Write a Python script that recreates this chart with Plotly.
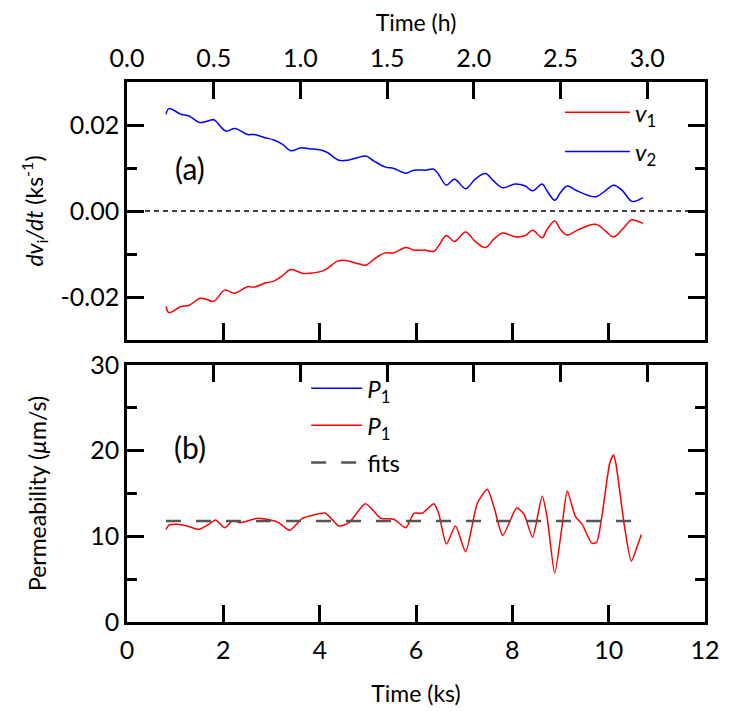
import plotly.graph_objects as go

# panel (a): dv_i/dt in ks^-1
time_v2 = [0.81, 0.87, 1.12, 1.29, 1.50, 1.64, 1.80, 2.05, 2.24, 2.50, 2.64, 2.85, 3.05, 3.23, 3.40,
           3.61, 3.78, 4.02, 4.16, 4.40, 4.58, 4.78, 4.96, 5.13, 5.37, 5.54, 5.79, 5.96, 6.20, 6.37,
           6.47, 6.63, 6.80, 7.03, 7.23, 7.44, 7.61, 7.80, 8.06, 8.27, 8.42, 8.62, 8.72, 8.88, 9.00,
           9.14, 9.34, 9.73, 9.93, 10.10, 10.28, 10.47, 10.56, 10.71]
rate_v2 = [0.0225, 0.0238, 0.0225, 0.0221, 0.0206, 0.0208, 0.0212, 0.0186, 0.0192, 0.0178, 0.0178,
           0.0171, 0.0165, 0.0155, 0.0140, 0.0147, 0.0145, 0.0142, 0.0136, 0.0118, 0.0118, 0.0124,
           0.0128, 0.0116, 0.0102, 0.0099, 0.0088, 0.0095, 0.0095, 0.0097, 0.0085, 0.0060, 0.0074,
           0.0052, 0.0074, 0.0087, 0.0070, 0.0054, 0.0063, 0.0058, 0.0047, 0.0063, 0.0047, 0.0025,
           0.0043, 0.0058, 0.0047, 0.0033, 0.0047, 0.0060, 0.0048, 0.0023, 0.0023, 0.0031]

time_v1 = [0.81, 0.87, 1.12, 1.29, 1.52, 1.64, 1.80, 2.03, 2.24, 2.50, 2.64, 2.88, 3.05, 3.23, 3.40,
           3.64, 3.78, 4.09, 4.38, 4.54, 4.78, 4.96, 5.13, 5.34, 5.54, 5.79, 5.96, 6.20, 6.37, 6.47,
           6.63, 6.80, 7.03, 7.23, 7.44, 7.61, 7.80, 8.06, 8.27, 8.42, 8.62, 8.72, 8.88, 9.00, 9.14,
           9.34, 9.73, 9.93, 10.10, 10.28, 10.47, 10.56, 10.71]
rate_v1 = [-0.0222, -0.0236, -0.0222, -0.0219, -0.0203, -0.0205, -0.0210, -0.0184, -0.0191, -0.0176,
           -0.0177, -0.0167, -0.0163, -0.0150, -0.0136, -0.0145, -0.0145, -0.0138, -0.0116, -0.0115,
           -0.0122, -0.0126, -0.0112, -0.0098, -0.0097, -0.0085, -0.0091, -0.0091, -0.0094, -0.0081,
           -0.0057, -0.0071, -0.0049, -0.0071, -0.0085, -0.0066, -0.0051, -0.0060, -0.0057, -0.0045,
           -0.0062, -0.0043, -0.0023, -0.0043, -0.0056, -0.0045, -0.0031, -0.0046, -0.0060, -0.0043,
           -0.0021, -0.0022, -0.0029]

# panel (b): permeability in um/s
time_p = [0.81, 0.87, 1.04, 1.25, 1.49, 1.67, 1.84, 2.03, 2.19, 2.36, 2.71, 2.98, 3.15, 3.38, 3.64,
          3.88, 4.12, 4.40, 4.61, 4.95, 5.27, 5.54, 5.79, 5.96, 6.13, 6.37, 6.47, 6.63, 6.82, 7.03,
          7.27, 7.48, 7.62, 7.80, 8.09, 8.24, 8.42, 8.62, 8.72, 8.88, 9.03, 9.14, 9.31, 9.45, 9.65,
          9.75, 10.02, 10.10, 10.15, 10.33, 10.47, 10.59, 10.68]
perm_p1 = [10.8, 11.3, 11.4, 11.2, 10.8, 11.3, 11.9, 11.0, 11.8, 11.6, 12.1, 11.9, 11.6, 10.7, 12.1,
           12.5, 12.7, 11.2, 11.6, 13.8, 12.1, 12.0, 11.0, 12.7, 12.7, 13.8, 12.7, 9.1, 11.2, 8.2,
           13.8, 15.5, 13.4, 10.1, 13.3, 12.6, 9.9, 14.7, 12.3, 5.7, 11.1, 15.3, 12.3, 11.4, 9.2,
           9.3, 18.5, 19.5, 18.5, 11.1, 7.1, 8.8, 10.2]
fit_time = [0.81, 10.47]
fit_perm = [11.8, 11.8]

hour_ticks = [0.0, 0.5, 1.0, 1.5, 2.0, 2.5, 3.0]
hour_labels = ["0.0", "0.5", "1.0", "1.5", "2.0", "2.5", "3.0"]
KS_PER_HOUR = 3.6

FONT = "Lato"
fig = go.Figure()

fig.add_trace(go.Scatter(x=time_v1, y=rate_v1, mode="lines", line=dict(color="#ff0000", width=1.5, shape="spline"),
                         name="<i>v</i><sub>1</sub>", legend="legend", legendgroup="a1", xaxis="x", yaxis="y"))
fig.add_trace(go.Scatter(x=time_v2, y=rate_v2, mode="lines", line=dict(color="#0000ff", width=1.5, shape="spline"),
                         name="<i>v</i><sub>2</sub>", legend="legend", legendgroup="a2", xaxis="x", yaxis="y"))

fig.add_trace(go.Scatter(x=[None], y=[None], mode="lines", line=dict(color="#0000ff", width=1.5),
                         name="<i>P</i><sub>1</sub>", legend="legend2", legendgroup="b1", xaxis="x3", yaxis="y2"))
fig.add_trace(go.Scatter(x=time_p, y=perm_p1, mode="lines", line=dict(color="#ff0000", width=1.5, shape="spline", smoothing=0.6),
                         name="<i>P</i><sub>1</sub>", legend="legend2", legendgroup="b2", xaxis="x3", yaxis="y2"))
fig.add_trace(go.Scatter(x=fit_time, y=fit_perm, mode="lines", line=dict(color="#555555", width=2.5, dash="15px,15px"),
                         name="fits", legend="legend2", legendgroup="b3", xaxis="x3", yaxis="y2"))

# the hour axes need a trace each so that plotly draws them
for xa, ya in (("x2", "y"), ("x4", "y2")):
    fig.add_trace(go.Scatter(x=[None], y=[None], mode="lines", showlegend=False, hoverinfo="skip",
                             xaxis=xa, yaxis=ya))

fig.add_hline(y=0, line=dict(color="black", width=1.3, dash="5px,4px"), xref="x", yref="y")

tick = dict(ticks="inside", ticklen=17, tickwidth=2.5, tickcolor="black", automargin=False,
            tickfont=dict(family=FONT, size=25, color="black"), showgrid=False, zeroline=False)
frame = dict(showline=True, linewidth=2.5, linecolor="black", mirror=True)
title_font = dict(family=FONT, size=23, color="black")
legend_font = dict(family=FONT, size=24, color="black")

fig.update_layout(
    width=721, height=703,
    margin=dict(l=119, r=24, t=74, b=89, autoexpand=False),
    plot_bgcolor="white", paper_bgcolor="white",
    showlegend=True,
    xaxis=dict(domain=[0, 1], anchor="y", range=[0, 12], dtick=2, showticklabels=False, **tick, **frame),
    xaxis2=dict(overlaying="x", anchor="y", side="top", range=[0, 12 / KS_PER_HOUR],
                tickvals=hour_ticks, ticktext=hour_labels, ticklabelstandoff=9,
                title=dict(text="Time (h)", font=title_font, standoff=6), **tick),
    yaxis=dict(domain=[0.5222, 1], anchor="x", range=[-0.03, 0.03],
               tickvals=[-0.02, 0, 0.02], ticktext=["-0.02", "0.00", "0.02"], mirror="ticks",
               showline=True, linewidth=2.5, linecolor="black",
               minor=dict(dtick=0.01, ticks="inside", ticklen=10, tickwidth=2.5, tickcolor="black"),
               title=dict(text="<i>dv</i><sub>i</sub><i>/dt</i> (ks<sup>-1</sup>)", font=title_font, standoff=11),
               **tick),
    xaxis3=dict(domain=[0, 1], anchor="y2", range=[0, 12], dtick=2, ticklabelstandoff=4,
                title=dict(text="Time (ks)", font=title_font, standoff=24), **tick, **frame),
    xaxis4=dict(overlaying="x3", anchor="y2", side="top", range=[0, 12 / KS_PER_HOUR],
                tickvals=hour_ticks, showticklabels=False, **tick),
    yaxis2=dict(domain=[0, 0.476], anchor="x3", range=[0, 30], dtick=10, mirror="ticks",
                showline=True, linewidth=2.5, linecolor="black",
                minor=dict(dtick=5, ticks="inside", ticklen=10, tickwidth=2.5, tickcolor="black"),
                title=dict(text="Permeability (<i>µ</i>m/s)", font=title_font, standoff=38),
                **tick),
    legend=dict(x=0.749, y=0.985, xref="paper", yref="paper", xanchor="left", yanchor="top",
                bgcolor="rgba(0,0,0,0)", font=legend_font, tracegroupgap=5, itemwidth=65),
    legend2=dict(x=0.31, y=0.474, xref="paper", yref="paper", xanchor="left", yanchor="top",
                 bgcolor="rgba(0,0,0,0)", font=legend_font, tracegroupgap=3, itemwidth=51),
    annotations=[
        dict(text="(a)", xref="x domain", yref="y domain", x=0.109, y=0.665, showarrow=False,
             xanchor="center", yanchor="middle", font=dict(family=FONT, size=30, color="black")),
        dict(text="(b)", xref="x3 domain", yref="y2 domain", x=0.109, y=0.68, showarrow=False,
             xanchor="center", yanchor="middle", font=dict(family=FONT, size=30, color="black")),
    ],
)

fig.write_html("out.html")
